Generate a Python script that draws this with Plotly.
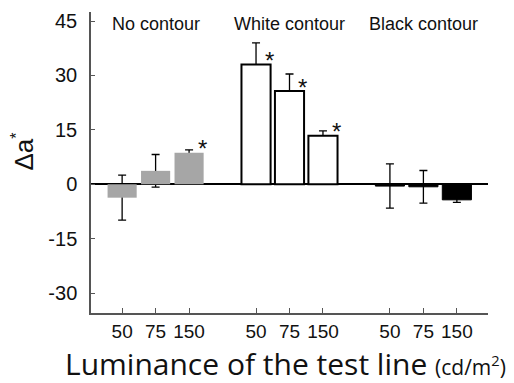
import plotly.graph_objects as go

groups = ["No contour", "White contour", "Black contour"]
luminance = ["50", "75", "150"]
no_contour = [-3.7, 3.7, 8.7]
no_contour_err = [6.2, 4.5, 0.8]
white_contour = [33.0, 25.7, 13.4]
white_contour_err = [6.0, 4.7, 1.3]
black_contour = [-0.5, -0.7, -4.3]
black_contour_err = [6.1, 4.5, 0.7]
significant = [[False, False, True], [True, True, True], [False, False, False]]
y_ticks = [-30, -15, 0, 15, 30, 45]
y_ticktext = ["-30", "-15", "0", "15", "30", "45"]

positions = [[0, 1, 2], [4, 5, 6], [8, 9, 10]]
values = [no_contour, white_contour, black_contour]
errors = [no_contour_err, white_contour_err, black_contour_err]
fills = ["#a6a6a6", "#ffffff", "#000000"]
lines = [0, 2, 1]

fig = go.Figure()
bw = 0.87
# error bars first (drawn behind bars)
for g in range(3):
    fig.add_trace(go.Bar(
        x=positions[g], y=values[g], width=bw,
        marker=dict(color="rgba(0,0,0,0)", line=dict(width=0)),
        error_y=dict(type="data", array=errors[g], visible=True,
                     color="black", thickness=1.3, width=4),
        showlegend=False, hoverinfo="skip"))
for g in range(3):
    fig.add_trace(go.Bar(
        x=positions[g], y=values[g], width=bw,
        marker=dict(color=fills[g], line=dict(width=lines[g], color="black")),
        showlegend=False))

annotations = []
for g in range(3):
    annotations.append(dict(x=positions[g][1], y=0.967, xref="x", yref="paper",
                            text=groups[g], showarrow=False, yshift=10,
                            font=dict(family="Liberation Sans, Arial", size=18, color="#111")))
    for i in range(3):
        if significant[g][i]:
            annotations.append(dict(x=positions[g][i] + 0.4,
                                    y=values[g][i],
                                    xref="x", yref="y", text="*", showarrow=False,
                                    yanchor="middle", yshift=4,
                                    font=dict(family="Liberation Sans, Arial", size=24, color="#111")))

annotations.append(dict(x=(285 - 91) / 397, y=(313 - 363) / 301, xref="paper", yref="paper",
                        text="Luminance of the test line <span style='font-size:21px'>(cd/m<sup>2</sup>)</span>",
                        showarrow=False, yanchor="middle",
                        font=dict(family="Open Sans", size=30, color="#111")))
annotations.append(dict(x=(6 - 91) / 397, y=(313 - 152) / 301, xref="paper", yref="paper",
                        text="Δa<sup><span style='font-size:16px'>*</span></sup>", textangle=-90,
                        showarrow=False,
                        font=dict(family="Liberation Sans, Arial", size=26, color="#111")))

tickvals = positions[0] + positions[1] + positions[2]
ticktext = luminance * 3

fig.update_layout(
    width=514, height=383,
    margin=dict(l=91, r=26, t=12, b=70, autoexpand=False),
    paper_bgcolor="white", plot_bgcolor="white",
    barmode="overlay",
    annotations=annotations,
    xaxis=dict(range=[-0.93, 10.93], tickvals=tickvals, ticktext=ticktext,
               showline=True, linecolor="#555", linewidth=1.5,
               ticks="inside", ticklen=5, tickcolor="#555", tickwidth=1.3,
               showgrid=False, zeroline=False, automargin=False,
               tickfont=dict(family="Liberation Sans, Arial", size=19, color="#111")),
    yaxis=dict(range=[-35.5, 47.5], tickvals=y_ticks, ticktext=y_ticktext,
               showline=True, linecolor="#555", linewidth=1.5,
               ticks="inside", ticklen=4, tickcolor="#555", tickwidth=1.3,
               showgrid=False, zeroline=True, zerolinecolor="black", zerolinewidth=1.5,
               ticklabelstandoff=8, automargin=False,
               tickfont=dict(family="Liberation Sans, Arial", size=20, color="#111")),
)

fig.write_html("out.html", config={"displayModeBar": False},
               post_script="document.body.style.margin='0';")
